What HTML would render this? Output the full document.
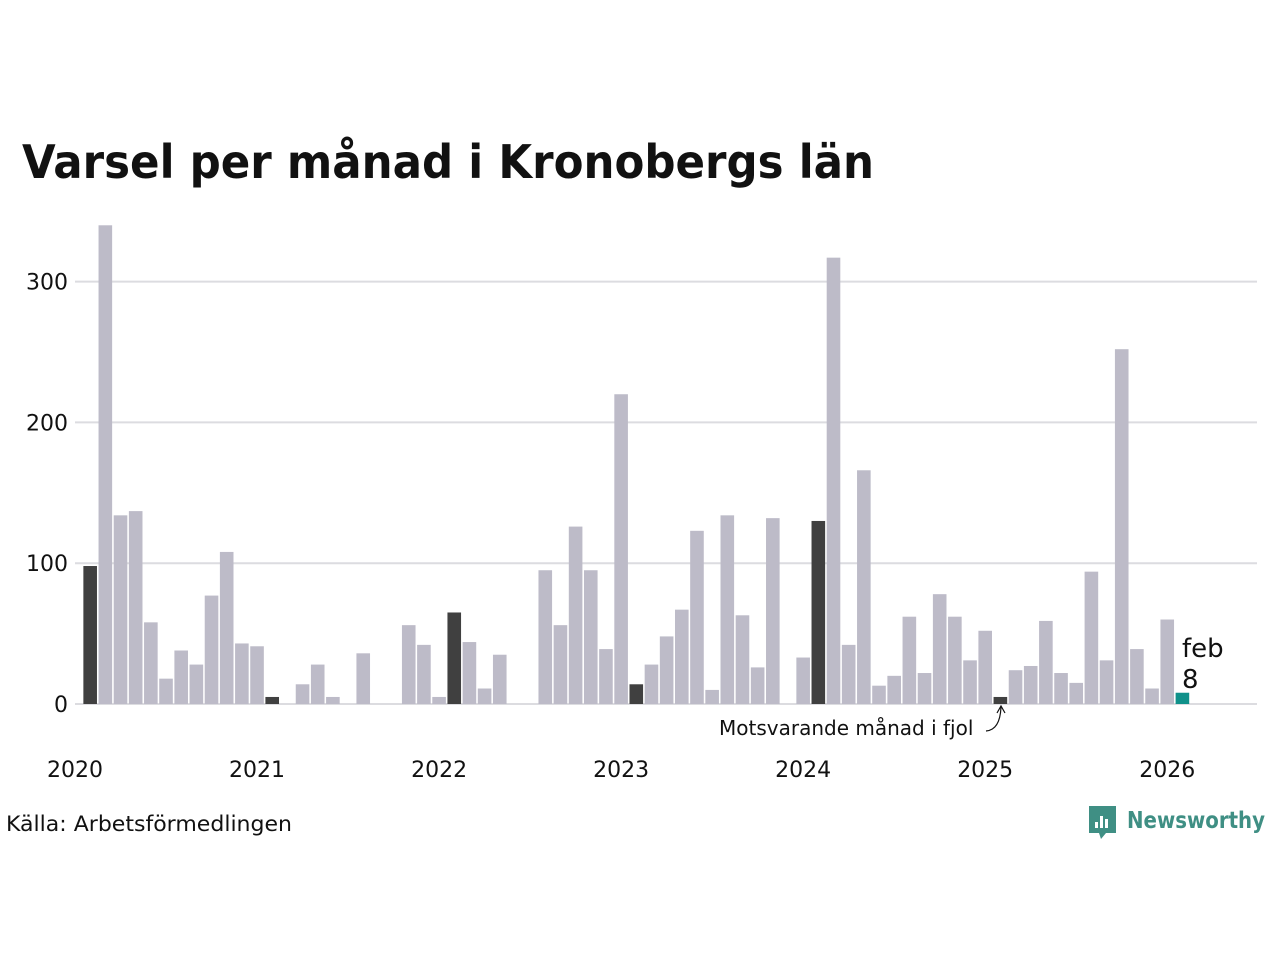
<!DOCTYPE html>
<html><head><meta charset="utf-8"><style>
body{margin:0;background:#fff;font-family:"Liberation Sans",sans-serif;}
svg text{font-family:"DejaVu Sans","Liberation Sans",sans-serif;}
</style></head><body>
<svg id="chart" width="1280" height="960" xmlns="http://www.w3.org/2000/svg">
<rect width="1280" height="960" fill="#fff"/>
<text x="22" y="178" font-size="46" font-weight="bold" fill="#111" textLength="852" lengthAdjust="spacingAndGlyphs">Varsel per månad i Kronobergs län</text>
<g id="grid"></g><g id="bars"></g><g id="xlabels"></g>
<text x="719" y="735" font-size="20" fill="#111">Motsvarande månad i fjol</text>
<path d="M986,731 Q1000,730 1001,707" fill="none" stroke="#111" stroke-width="1.2"/>
<path d="M997,713 L1001,706 L1005,713" fill="none" stroke="#111" stroke-width="1.2"/>
<text x="1182" y="657" font-size="26" fill="#111">feb</text>
<text x="1182" y="688" font-size="26" fill="#111">8</text>
<text x="6" y="831" font-size="21" fill="#111" textLength="286" lengthAdjust="spacingAndGlyphs">Källa: Arbetsförmedlingen</text>
<g>
<path d="M1089,806 h27 v27 h-10 l-5,6 l-2,-6 h-10 z" fill="#3f8f84"/>
<rect x="1095" y="822" width="3" height="6" fill="#fff"/><rect x="1100" y="816" width="3" height="12" fill="#fff"/><rect x="1105" y="819" width="3" height="9" fill="#fff"/>
<text x="1127" y="828" font-size="23" font-weight="bold" fill="#3f8f84" textLength="138" lengthAdjust="spacingAndGlyphs">Newsworthy</text>
</g>
</svg>
<script>
const values=[0,98,340,134,137,58,18,38,28,77,108,43,41,5,0,14,28,5,0,36,0,0,56,42,5,65,44,11,35,0,0,95,56,126,95,39,220,14,28,48,67,123,10,134,63,26,132,0,33,130,317,42,166,13,20,62,22,78,62,31,52,5,24,27,59,22,15,94,31,252,39,11,60,8];
const yTicks=[0,100,200,300];
const years=[2020,2021,2022,2023,2024,2025,2026];
const NS="http://www.w3.org/2000/svg";
const x=i=>75+i*15.17;
const y=v=>704-v*1.408;
const g=document.getElementById('grid'),b=document.getElementById('bars'),xl=document.getElementById('xlabels');
yTicks.forEach(t=>{
 const l=document.createElementNS(NS,'line');
 
 
 l.setAttribute('x1',75);l.setAttribute('x2',1257);l.setAttribute('y1',y(t));l.setAttribute('y2',y(t));
 l.setAttribute('stroke','#dcdce0');l.setAttribute('stroke-width',2);g.appendChild(l);
 const tx=document.createElementNS(NS,'text');
 
 
 tx.setAttribute('x',68);tx.setAttribute('y',y(t)+8);tx.setAttribute('text-anchor','end');tx.setAttribute('font-size',22);tx.setAttribute('fill','#111');
 tx.textContent=t;g.appendChild(tx);
});
values.forEach((v,i)=>{
 if(v<=0)return;
 const r=document.createElementNS(NS,'rect');
 
 
 const last=i===values.length-1, feb=i%12===1;
 r.setAttribute('x',x(i)-6.8);r.setAttribute('width',13.6);r.setAttribute('y',y(v));r.setAttribute('height',704-y(v));
 r.setAttribute('fill',last?'#10918a':feb?'#404040':'#bdbbc8');b.appendChild(r);
});
years.forEach((yr,k)=>{
 const tx=document.createElementNS(NS,'text');
 
 
 tx.setAttribute('x',x(k*12));tx.setAttribute('y',777);tx.setAttribute('text-anchor','middle');tx.setAttribute('font-size',22);tx.setAttribute('fill','#111');
 tx.textContent=yr;xl.appendChild(tx);
});
</script>
</body></html>
